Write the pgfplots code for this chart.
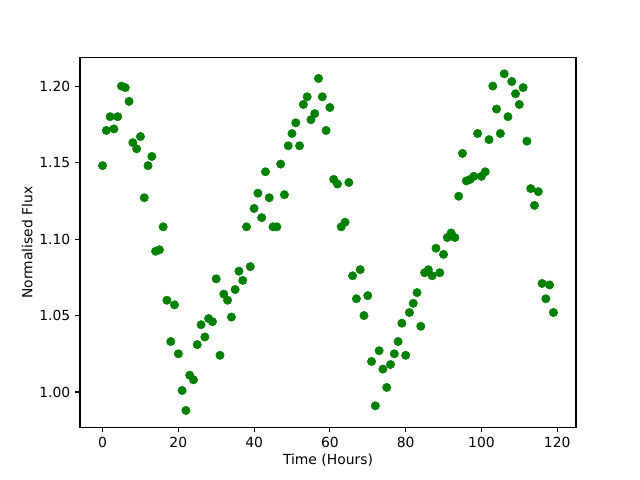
\documentclass[border=0pt]{standalone}
\usepackage{pgfplots}
\pgfplotsset{compat=1.18}
\usepackage{fontspec}
\setmainfont{DejaVu Sans}
\definecolor{mplgreen}{HTML}{008000}
\begin{document}
\begin{tikzpicture}
\begin{axis}[
  scale only axis,
  width=357.1pt, height=266.1pt,
  xmin=-5.95, xmax=124.95,
  ymin=0.977, ymax=1.2186,
  xtick={0,20,...,120},
  ytick={1.00,1.05,1.10,1.15,1.20},
  yticklabel style={/pgf/number format/.cd,fixed,fixed zerofill,precision=2},
  /pgf/number format/assume math mode=true,
  tick align=outside,
  xtick pos=bottom, ytick pos=left,
  major tick length=3.5pt,
  tick style={black, line width=0.8pt},
  axis line style={line width=0.8pt},
  ticklabel style={font=\fontsize{10}{12}\selectfont},
  label style={font=\fontsize{10}{12}\selectfont},
  xlabel={Time (Hours)},
  ylabel={Normalised Flux},
  xlabel style={yshift=2pt},
  ylabel style={yshift=-2pt},
]
\addplot[only marks, mark=*, mark size=3pt, mplgreen, mark options={fill=mplgreen, draw=mplgreen}] table {
x y
0 1.148
1 1.171
2 1.180
3 1.172
4 1.180
5 1.200
6 1.199
7 1.190
8 1.163
9 1.159
10 1.167
11 1.127
12 1.148
13 1.154
14 1.092
15 1.093
16 1.108
17 1.060
18 1.033
19 1.057
20 1.025
21 1.001
22 0.988
23 1.011
24 1.008
25 1.031
26 1.044
27 1.036
28 1.048
29 1.046
30 1.074
31 1.024
32 1.064
33 1.060
34 1.049
35 1.067
36 1.079
37 1.073
38 1.108
39 1.082
40 1.120
41 1.130
42 1.114
43 1.144
44 1.127
45 1.108
46 1.108
47 1.149
48 1.129
49 1.161
50 1.169
51 1.176
52 1.161
53 1.188
54 1.193
55 1.178
56 1.182
57 1.205
58 1.193
59 1.171
60 1.186
61 1.139
62 1.136
63 1.108
64 1.111
65 1.137
66 1.076
67 1.061
68 1.080
69 1.050
70 1.063
71 1.020
72 0.991
73 1.027
74 1.015
75 1.003
76 1.018
77 1.025
78 1.033
79 1.045
80 1.024
81 1.052
82 1.058
83 1.065
84 1.043
85 1.078
86 1.080
87 1.076
88 1.094
89 1.078
90 1.090
91 1.101
92 1.104
93 1.101
94 1.128
95 1.156
96 1.138
97 1.139
98 1.141
99 1.169
100 1.141
101 1.144
102 1.165
103 1.200
104 1.185
105 1.169
106 1.208
107 1.180
108 1.203
109 1.195
110 1.188
111 1.199
112 1.164
113 1.133
114 1.122
115 1.131
116 1.071
117 1.061
118 1.070
119 1.052
};
\end{axis}
\path (current axis.south west) ++(-57.6pt,-38pt) rectangle ([xshift=46.1pt,yshift=41.5pt]current axis.north east);
\end{tikzpicture}
\end{document}
